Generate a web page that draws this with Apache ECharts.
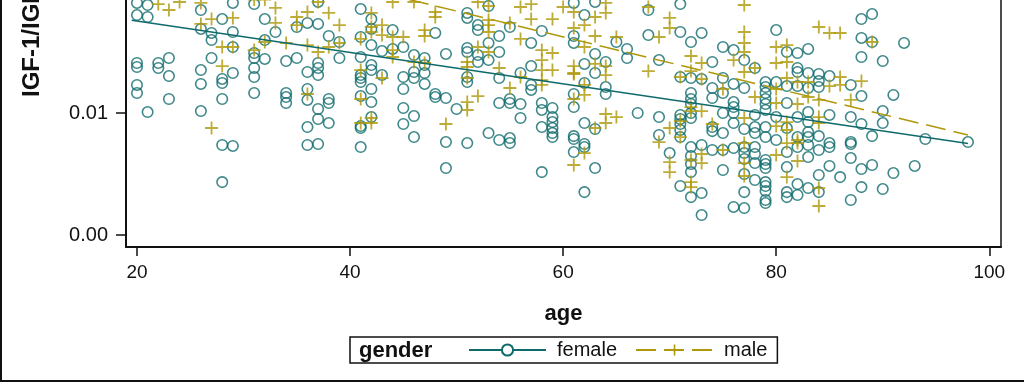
<!DOCTYPE html>
<html><head><meta charset="utf-8">
<script src="https://cdn.jsdelivr.net/npm/echarts@6/dist/echarts.min.js"></script>
<style>html,body{margin:0;padding:0;background:#fff}#c{width:1024px;height:384px}</style>
</head><body><div id="c"></div>
<script>
// [age, IGF-1/IGFBP-3 ratio]
const femalePoints = [
[20,0.01902],[21,0.01885],[20,0.01803],[21,0.01787],[29,0.01902],[31,0.01893],[26,0.01844],[28,0.01770],[32,0.01770],[26,0.01689],[27,0.01656],[27,0.01598],[29,0.01664],[33,0.01664],[35,0.01705],[29,0.01541],[31,0.01492],[31,0.01451],[32,0.01443],[32,0.01598],[34,0.01426],[35,0.01451],[27,0.01451],[20,0.01410],[20,0.01377],[22,0.01410],[22,0.01369],[23,0.01451],[23,0.01303],[26,0.01352],[26,0.01238],[28,0.01279],[28,0.01246],[29,0.01328],[31,0.01369],[31,0.01295],[20,0.01230],[20,0.01164],[23,0.01115],[28,0.01115],[31,0.01164],[34,0.01164],[34,0.01131],[34,0.01082],[21,0.01008],[26,0.01016],[28,0.00738],[29,0.00730],[28,0.00434],
[37,0.01910],[41,0.01852],[42,0.01770],[36,0.01738],[37,0.01730],[38,0.01631],[39,0.01582],[41,0.01623],[42,0.01689],[42,0.01557],[44,0.01680],[45,0.01541],[44,0.01525],[43,0.01508],[46,0.01475],[47,0.01451],[47,0.01393],[48,0.01656],[49,0.01484],[51,0.01533],[51,0.01500],[51,0.01820],[51,0.01779],[39,0.01451],[41,0.01459],[37,0.01410],[37,0.01369],[37,0.01311],[36,0.01336],[41,0.01311],[41,0.01287],[41,0.01254],[42,0.01393],[42,0.01352],[43,0.01311],[45,0.01295],[46,0.01336],[46,0.01287],[47,0.01328],[47,0.01238],[51,0.01295],[51,0.01254],[36,0.01197],[36,0.01107],[38,0.01115],[38,0.01082],[37,0.01033],[37,0.00951],[38,0.00918],[36,0.00885],[41,0.01139],[42,0.01197],[42,0.01090],[45,0.01197],[45,0.01041],[45,0.00910],[46,0.00975],[48,0.01156],[48,0.01131],[49,0.01123],[50,0.01033],[41,0.00893],[41,0.00877],[42,0.00967],[36,0.00738],[37,0.00746],[41,0.00721],[46,0.00803],[49,0.00762],[51,0.00754],[49,0.00549],
[53,0.01877],[61,0.01902],[62,0.01803],[63,0.01910],[52,0.01721],[52,0.01680],[54,0.01631],[55,0.01705],[58,0.01672],[57,0.01574],[61,0.01631],[61,0.01574],[65,0.01582],[66,0.01525],[66,0.01451],[52,0.01475],[52,0.01418],[53,0.01574],[53,0.01434],[54,0.01500],[57,0.01385],[62,0.01402],[63,0.01484],[63,0.01328],[64,0.01418],[54,0.01287],[56,0.01328],[57,0.01230],[57,0.01189],[62,0.01246],[64,0.01213],[64,0.01156],[67,0.01000],[61,0.01156],[61,0.01049],[54,0.01082],[55,0.01115],[55,0.01082],[56,0.01074],[56,0.00959],[58,0.01082],[58,0.01025],[59,0.01041],[59,0.00967],[59,0.00926],[59,0.00877],[59,0.00836],[59,0.00803],[58,0.00885],[62,0.00918],[63,0.00869],[53,0.00836],[54,0.00779],[55,0.00795],[55,0.00754],[61,0.00811],[61,0.00787],[62,0.00746],[62,0.00721],[61,0.00680],[58,0.00516],[63,0.00549],[62,0.00352],
[68,0.01844],[71,0.01893],[68,0.01639],[71,0.01664],[72,0.01582],[73,0.01656],[69,0.01434],[74,0.01418],[75,0.01541],[76,0.01516],[77,0.01434],[78,0.01369],[80,0.01680],[81,0.01500],[82,0.01492],[82,0.01369],[82,0.01336],[71,0.01295],[72,0.01287],[72,0.01164],[72,0.01115],[72,0.01074],[73,0.01279],[74,0.01205],[74,0.01123],[75,0.01287],[75,0.01164],[76,0.01238],[76,0.01090],[76,0.01049],[76,0.01000],[76,0.00918],[77,0.01205],[79,0.01254],[79,0.01213],[79,0.01164],[79,0.01115],[79,0.01074],[79,0.01025],[80,0.01254],[81,0.01221],[81,0.01082],[82,0.01221],[69,0.00967],[71,0.00984],[71,0.00951],[71,0.00910],[71,0.00861],[71,0.00803],[72,0.01000],[72,0.00959],[74,0.00885],[74,0.00852],[75,0.01000],[75,0.00836],[77,0.00869],[78,0.00984],[78,0.00885],[78,0.00836],[79,0.00885],[79,0.00803],[80,0.00967],[81,0.00877],[82,0.00967],[69,0.00820],[70,0.00672],[72,0.00721],[72,0.00648],[72,0.00582],[72,0.00516],[72,0.00311],[73,0.00738],[74,0.00697],[75,0.00697],[76,0.00713],[77,0.00721],[77,0.00672],[77,0.00623],[77,0.00500],[77,0.00352],[78,0.00721],[78,0.00664],[78,0.00590],[78,0.00451],[79,0.00615],[79,0.00582],[79,0.00549],[79,0.00434],[79,0.00402],[79,0.00361],[79,0.00287],[79,0.00262],[80,0.00779],[81,0.00680],[81,0.00557],[81,0.00352],[81,0.00311],[82,0.00803],[82,0.00721],[82,0.00418],[82,0.00328],[75,0.00533],[71,0.00402],[73,0.00344],[73,0.00164],[76,0.00230],[77,0.00221],
[83,0.01525],[83,0.01328],[83,0.01205],[83,0.01008],[83,0.00926],[83,0.00844],[83,0.00803],[83,0.00738],[83,0.00639],[83,0.00385],
[88,0.01770],[89,0.01811],[88,0.01615],[89,0.01582],[92,0.01574],[88,0.01459],[90,0.01426],[84,0.01320],[85,0.01303],[84,0.01262],[84,0.01213],[87,0.01230],[88,0.01139],[91,0.01148],[85,0.00984],[87,0.00967],[88,0.00910],[90,0.01016],[90,0.00918],[89,0.00811],[94,0.00787],[98,0.00762],[84,0.00811],[84,0.00697],[85,0.00754],[85,0.00721],[87,0.00762],[87,0.00746],[87,0.00631],[85,0.00566],[86,0.00475],[88,0.00541],[89,0.00574],[91,0.00508],[93,0.00566],[84,0.00492],[84,0.00352],[88,0.00393],[90,0.00377],[87,0.00287]
];
const malePoints = [
[22,0.01893],[23,0.01844],[24,0.01910],[26,0.01902],[27,0.01770],[29,0.01779],[33,0.01738],[26,0.01730],[28,0.01541],[29,0.01541],[31,0.01516],[32,0.01582],[34,0.01574],[28,0.01385],[27,0.00877],[31,0.01930],[32,0.01930],[33,0.01861],
[35,0.01787],[35,0.01721],[36,0.01828],[38,0.01820],[39,0.01721],[44,0.01910],[46,0.01910],[48,0.01828],[48,0.01787],[42,0.01820],[42,0.01705],[42,0.01664],[43,0.01721],[43,0.01639],[44,0.01623],[45,0.01623],[47,0.01680],[47,0.01631],[41,0.01607],[36,0.01557],[37,0.01500],[38,0.01541],[39,0.01574],[44,0.01516],[44,0.01459],[46,0.01418],[47,0.01410],[51,0.01418],[51,0.01377],[51,0.01287],[41,0.01352],[43,0.01287],[36,0.01156],[41,0.01115],[51,0.01090],[51,0.01025],[41,0.00918],[42,0.00918],[42,0.00959],[49,0.00910],[37,0.01910],
[52,0.01910],[53,0.01877],[53,0.01762],[53,0.01721],[53,0.01664],[56,0.01869],[57,0.01893],[57,0.01770],[59,0.01770],[60,0.01869],[61,0.01828],[64,0.01902],[64,0.01820],[63,0.01787],[55,0.01738],[56,0.01607],[61,0.01697],[62,0.01721],[63,0.01631],[65,0.01623],[62,0.01541],[52,0.01541],[53,0.01500],[58,0.01516],[58,0.01434],[58,0.01352],[58,0.01270],[58,0.01230],[59,0.01492],[59,0.01352],[54,0.01369],[56,0.01295],[61,0.01385],[61,0.01320],[61,0.01328],[63,0.01402],[64,0.01385],[64,0.01311],[62,0.01230],[62,0.01148],[55,0.01205],[52,0.01139],[61,0.01115],[64,0.00992],[64,0.00918],[65,0.00967],[63,0.00877],[62,0.00672],[61,0.00574],
[68,0.01869],[77,0.01885],[70,0.01779],[70,0.01697],[69,0.01623],[77,0.01664],[77,0.01574],[77,0.01500],[80,0.01541],[81,0.01557],[68,0.01344],[72,0.01467],[72,0.01344],[73,0.01410],[71,0.01295],[73,0.01279],[76,0.01434],[77,0.01336],[78,0.01369],[80,0.01410],[81,0.01418],[75,0.01197],[78,0.01131],[81,0.01287],[82,0.01254],[80,0.01197],[80,0.01082],[82,0.01074],[72,0.01049],[72,0.01016],[73,0.01016],[71,0.00934],[70,0.00877],[69,0.00762],[71,0.00803],[74,0.00910],[77,0.00959],[80,0.00893],[81,0.00926],[81,0.00861],[81,0.00754],[82,0.00779],[82,0.00754],[70,0.00598],[70,0.00516],[72,0.00615],[72,0.00434],[72,0.00393],[73,0.00664],[73,0.00590],[75,0.00697],[77,0.00754],[77,0.00590],[77,0.00484],[80,0.00656],[82,0.00607],[81,0.00475],
[84,0.01705],[85,0.01656],[86,0.01656],[89,0.01582],[86,0.01295],[88,0.01262],[83,0.01254],[85,0.01221],[86,0.01230],[83,0.01131],[84,0.01107],[87,0.01107],[84,0.00967],[84,0.00918],[84,0.00385],[84,0.00238]
];
// fitted regression lines (end points)
const femaleFit = [[19.5,0.0176],[98,0.0075]];
const maleFit = [[20,0.0247],[98,0.0082]];
const xTicks = [20,40,60,80,100];
const yTicks = [0,0.01];

const FEMALE = '#0f6a6c', MALE = '#ae9708', INK = '#111';
const FONT = '"Liberation Sans", Arial, sans-serif';
const PLUS = 'path://M4.3,0h1.4v4.3h4.3v1.4h-4.3v4.3h-1.4v-4.3h-4.3v-1.4h4.3z';
const Y_MIN = -0.00098, Y_MAX = 0.019262;

const chart = echarts.init(document.getElementById('c'), null, {renderer: 'canvas'});
chart.setOption({
  animation: false,
  backgroundColor: '#fff',
  grid: {left: 126, right: 23, top: 0, bottom: 137, show: false},
  xAxis: {
    type: 'value', min: 18.97, max: 101.1,
    axisLine: {show: true, onZero: false, lineStyle: {color: INK, width: 2}},
    axisTick: {show: true, customValues: xTicks, length: 9, lineStyle: {color: INK, width: 1.5}},
    axisLabel: {customValues: xTicks, margin: 16, fontSize: 19, color: INK, fontFamily: FONT},
    splitLine: {show: false},
    name: 'age', nameLocation: 'middle', nameGap: 56,
    nameTextStyle: {fontSize: 22, fontWeight: 'bold', color: INK, fontFamily: FONT}
  },
  yAxis: [{
    type: 'value', min: Y_MIN, max: Y_MAX,
    axisLine: {show: true, onZero: false, lineStyle: {color: INK, width: 2}},
    axisTick: {show: true, customValues: yTicks, length: 10, lineStyle: {color: INK, width: 1.5}},
    axisLabel: {customValues: yTicks, formatter: v => v.toFixed(2), margin: 18, fontSize: 20, color: INK, fontFamily: FONT},
    splitLine: {show: false}
  }, {
    type: 'value', position: 'right', min: Y_MIN, max: Y_MAX,
    axisLine: {show: true, onZero: false, lineStyle: {color: INK, width: 1.5}},
    axisTick: {show: false}, axisLabel: {show: false}, splitLine: {show: false}
  }],
  legend: {
    left: 350, top: 337, padding: [3, 10, 3, 118], itemGap: 18,
    borderColor: INK, borderWidth: 1.5,
    itemWidth: 77, itemHeight: 14, selectedMode: false,
    data: ['female', 'male'],
    textStyle: {fontSize: 20, color: INK, fontFamily: FONT, padding: [0, 0, 0, 6]}
  },
  graphic: [
    {type: 'text', x: 359, y: 351, style: {text: 'gender', font: 'bold 22px ' + FONT, fill: INK, textVerticalAlign: 'middle'}},
    {type: 'text', x: 32, y: 97, rotation: Math.PI / 2, style: {text: 'IGF-1/IGFBP-3', font: 'bold 24px ' + FONT, fill: INK, textAlign: 'left', textVerticalAlign: 'middle'}},
    {type: 'rect', shape: {x: 1, y: -10, width: 1100, height: 391}, style: {fill: 'none', stroke: INK, lineWidth: 2}}
  ],
  series: [
    {name: 'female', type: 'line', data: femaleFit, showSymbol: false, symbol: 'circle', z: 5, clip: false,
     itemStyle: {color: '#fff', borderColor: FEMALE, borderWidth: 1.4},
     lineStyle: {color: FEMALE, width: 1.5}},
    {name: 'male', type: 'line', data: maleFit, showSymbol: false, symbol: PLUS, z: 5, clip: false,
     itemStyle: {color: MALE},
     lineStyle: {color: MALE, width: 1.5, type: [20, 8]}},
    {name: 'female', type: 'scatter', data: femalePoints, symbol: 'circle', symbolSize: 10.5, z: 3, clip: false,
     itemStyle: {color: 'rgba(0,0,0,0)', borderColor: FEMALE, borderWidth: 1.6}},
    {name: 'male', type: 'scatter', data: malePoints, symbol: PLUS, symbolSize: 13, z: 4, clip: false,
     itemStyle: {color: MALE}}
  ]
});
</script></body></html>
